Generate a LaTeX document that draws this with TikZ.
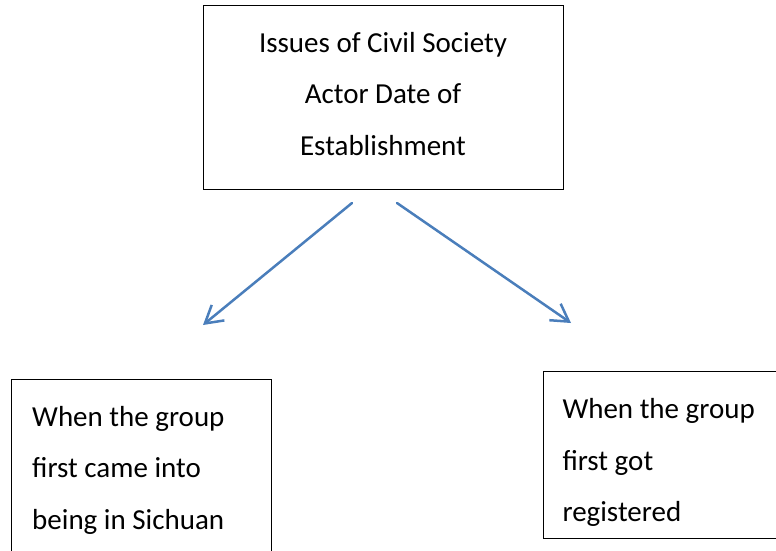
\documentclass[tikz,border=0pt]{standalone}
\usepackage{fontspec}
\setmainfont{Carlito}
\usetikzlibrary{arrows.meta}
\definecolor{arrowblue}{HTML}{4A7EBB}

\begin{document}
\begin{tikzpicture}
[x=1pt, y=-1pt,
 boxDecorate/.style={draw, line width=1pt, inner ysep=6pt,
   font=\fontsize{29}{51.5}\selectfont},
 arrowDecorate/.style={-{Straight Barb[length=17pt,width=20pt]},
   line width=2.5pt, line cap=round, arrowblue}]
\useasboundingbox (0,0) rectangle (776,550);
%% boxes
\node (issues) [boxDecorate, align=center, inner xsep=10pt,
  minimum width=360pt, minimum height=184pt] at (383,97)
  {\rule{0pt}{30pt}Issues of Civil Society\\Actor Date of\\Establishment\rule[-17pt]{0pt}{17pt}};
\node (came) [boxDecorate, anchor=north west, align=flush left, inner xsep=21pt,
  text width=218pt] at (10.7,378.5)
  {\rule{0pt}{41pt}When the group\\first came into\\being in Sichuan\rule[-25pt]{0pt}{25pt}};
\node (registered) [boxDecorate, anchor=north west, align=flush left, inner xsep=19pt,
  text width=230pt] at (543,371)
  {\rule{0pt}{41pt}When the group\\first got\\registered\rule[-11pt]{0pt}{11pt}};
%% arrow ends
\coordinate (issuesLeft) at (352,203);
\coordinate (issuesRight) at (397,203);
\coordinate (cameTop) at (203,325);
\coordinate (registeredTop) at (571,323);
%% arrows
\path
\foreach \startnode/\endnode in {
  issuesLeft/cameTop, issuesRight/registeredTop}
{
  (\startnode) edge[arrowDecorate] (\endnode)
};
\end{tikzpicture}
\end{document}
